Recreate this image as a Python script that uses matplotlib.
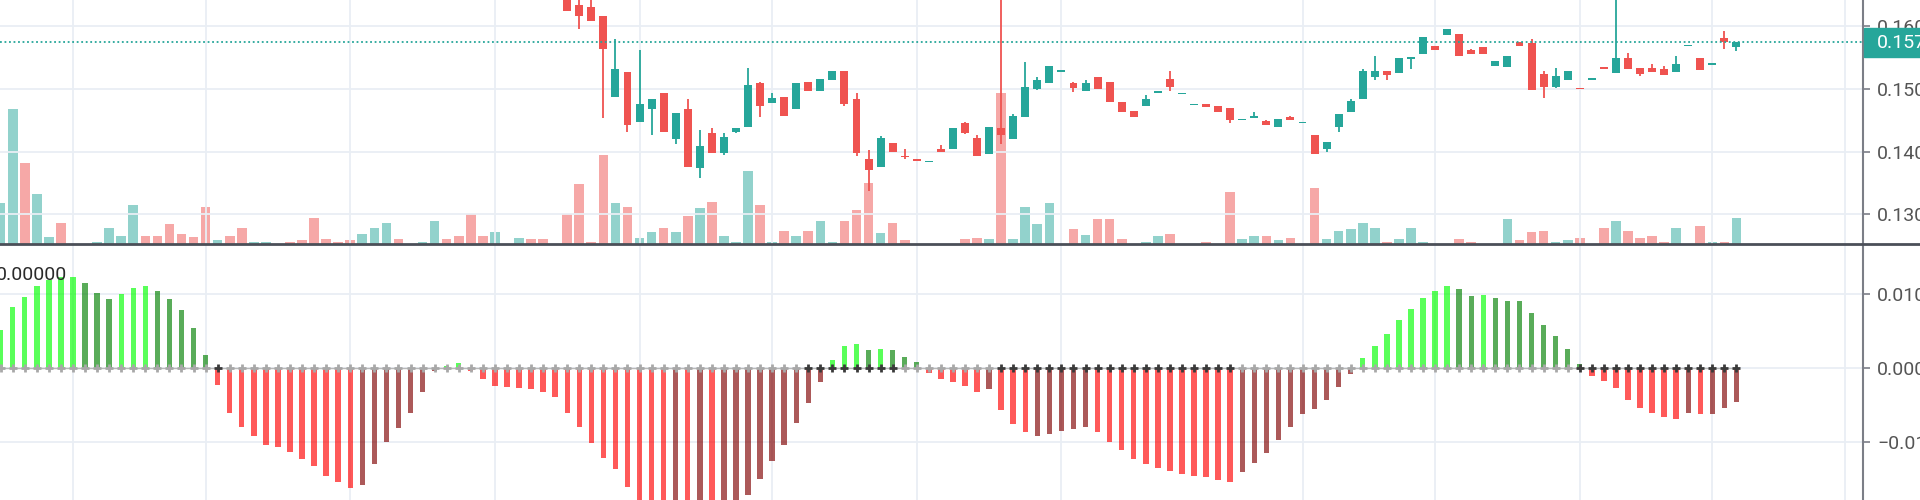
import numpy as np
import matplotlib
matplotlib.use("Agg")
import matplotlib.pyplot as plt
from matplotlib.patches import Rectangle
from matplotlib.lines import Line2D

plt.rcParams['font.family'] = ['Roboto', 'DejaVu Sans']

UP = '#26a69a'
DOWN = '#ef5350'
GRID = '#e9eef4'
AXIS = '#7b7e87'
LABEL = '#555555'

# bars 0..46 sit above the visible price range, only their volume shows
first_candle = 47
opens = [0.16500, 0.16335, 0.16307, 0.16159, 0.14874, 0.15262, 0.14475, 0.14678, 0.14928, 0.14195,
         0.14673, 0.13733, 0.14290, 0.13972, 0.14316, 0.14396, 0.15087, 0.14778, 0.14874, 0.14678,
         0.15103, 0.14964, 0.15140, 0.15283, 0.14832, 0.13881, 0.13759, 0.14131, 0.13934, 0.13876,
         0.13833, 0.14036, 0.14036, 0.14450, 0.14221, 0.13961, 0.14370, 0.14195, 0.14555, 0.14996,
         0.15097, 0.15272, 0.15087, 0.14964, 0.15183, 0.15103, 0.14794, 0.14646, 0.14725, 0.14938,
         0.15156, 0.14912, 0.14737, 0.14753, 0.14725, 0.14698, 0.14502, 0.14530, 0.14491, 0.14396,
         0.14545, 0.14450, 0.14264, 0.14036, 0.14396, 0.14625, 0.14832, 0.15192, 0.15283, 0.15246,
         0.15469, 0.15554, 0.15686, 0.15857, 0.15873, 0.15618, 0.15670, 0.15368, 0.15342, 0.15740,
         0.15734, 0.15235, 0.15033, 0.15140, 0.15007, 0.15145, 0.15342, 0.15251, 0.15485, 0.15336,
         0.15336, 0.15310, 0.15262, 0.15677, 0.15495, 0.15379, 0.15804, 0.15660]
highs = [0.16600, 0.16520, 0.16500, 0.16159, 0.15793, 0.15262, 0.15618, 0.14832, 0.14928, 0.14619,
         0.14832, 0.14343, 0.14370, 0.14290, 0.14370, 0.15336, 0.15110, 0.14928, 0.14874, 0.15087,
         0.15103, 0.15156, 0.15283, 0.15283, 0.14928, 0.14025, 0.14248, 0.14131, 0.14036, 0.13876,
         0.13849, 0.14104, 0.14370, 0.14466, 0.14264, 0.14396, 0.16650, 0.14600, 0.15422, 0.15192,
         0.15363, 0.15288, 0.15113, 0.15140, 0.15183, 0.15103, 0.14794, 0.14646, 0.14901, 0.14953,
         0.15283, 0.14928, 0.14753, 0.14753, 0.14725, 0.14698, 0.14518, 0.14625, 0.14510, 0.14518,
         0.14571, 0.14466, 0.14264, 0.14157, 0.14598, 0.14832, 0.15315, 0.15522, 0.15283, 0.15485,
         0.15511, 0.15820, 0.15686, 0.15947, 0.15873, 0.15640, 0.15670, 0.15442, 0.15522, 0.15740,
         0.15793, 0.15283, 0.15336, 0.15283, 0.15007, 0.15156, 0.15342, 0.16650, 0.15565, 0.15336,
         0.15390, 0.15363, 0.15522, 0.15697, 0.15495, 0.15415, 0.15925, 0.15740]
lows = [0.16244, 0.15952, 0.16084, 0.14529, 0.14864, 0.14316, 0.14475, 0.14263, 0.14316, 0.14115,
        0.13759, 0.13574, 0.13982, 0.13950, 0.14290, 0.14396, 0.14555, 0.14778, 0.14571, 0.14678,
        0.14964, 0.14964, 0.15140, 0.14725, 0.13934, 0.13376, 0.13759, 0.13988, 0.13881, 0.13854,
        0.13833, 0.13988, 0.14036, 0.14280, 0.13934, 0.13961, 0.14115, 0.14195, 0.14555, 0.14980,
        0.15097, 0.15272, 0.14953, 0.14964, 0.14991, 0.14784, 0.14635, 0.14555, 0.14725, 0.14938,
        0.14964, 0.14912, 0.14737, 0.14714, 0.14635, 0.14450, 0.14502, 0.14530, 0.14423, 0.14396,
        0.14502, 0.14450, 0.13961, 0.13988, 0.14316, 0.14625, 0.14832, 0.15140, 0.15140, 0.15246,
        0.15315, 0.15554, 0.15618, 0.15857, 0.15527, 0.15554, 0.15554, 0.15368, 0.15342, 0.15681,
        0.14980, 0.14858, 0.15007, 0.15140, 0.14991, 0.15145, 0.15320, 0.15251, 0.15315, 0.15208,
        0.15262, 0.15219, 0.15262, 0.15677, 0.15299, 0.15379, 0.15629, 0.15606]
closes = [0.16244, 0.16164, 0.16084, 0.15629, 0.15310, 0.14423, 0.14753, 0.14832, 0.14316, 0.14619,
          0.13759, 0.14088, 0.13982, 0.14237, 0.14370, 0.15060, 0.14725, 0.14848, 0.14571, 0.15087,
          0.14964, 0.15156, 0.15283, 0.14753, 0.13982, 0.13706, 0.14221, 0.13988, 0.13908, 0.13854,
          0.13849, 0.13988, 0.14370, 0.14290, 0.13934, 0.14396, 0.14264, 0.14571, 0.15033, 0.15140,
          0.15363, 0.15288, 0.15007, 0.15087, 0.14991, 0.14784, 0.14635, 0.14555, 0.14832, 0.14953,
          0.15033, 0.14928, 0.14753, 0.14714, 0.14635, 0.14502, 0.14518, 0.14571, 0.14423, 0.14518,
          0.14502, 0.14466, 0.13961, 0.14157, 0.14598, 0.14805, 0.15288, 0.15283, 0.15219, 0.15485,
          0.15511, 0.15820, 0.15618, 0.15947, 0.15527, 0.15554, 0.15554, 0.15442, 0.15522, 0.15681,
          0.14980, 0.15033, 0.15208, 0.15283, 0.14991, 0.15156, 0.15320, 0.15495, 0.15315, 0.15235,
          0.15262, 0.15219, 0.15390, 0.15697, 0.15299, 0.15415, 0.15740, 0.15740]
last_price = 0.1574

# volume, thousands
volume = [40.7, 135.3, 80.7, 50.3, 7, 21.3, 0, 0, 2, 16.3,
          8, 39, 8, 8, 19.7, 9.7, 7, 37, 3.7, 8,
          16.3, 2, 2, 0, 2, 3.7, 26.3, 5.3, 2, 3.7,
          10.3, 16.3, 21.3, 5.3, 0, 2, 23, 5.3, 8.3, 29.7,
          8, 12, 0, 6.3, 4.7, 4.7, 0, 29.7, 59.7, 2,
          88.7, 40.7, 37.3, 6.3, 12, 16.3, 12, 28, 35.7, 42,
          8, 2, 73, 39, 2, 13, 8, 13, 23, 2,
          23, 34, 61.3, 11.3, 21.3, 3.7, 0, 0, 0, 0,
          5.3, 6.3, 5.3, 151.3, 5.3, 37, 19.7, 40.7, 0, 14.7,
          8.7, 24.7, 24.7, 5.3, 0, 2, 8, 9.7, 0, 0,
          2, 0, 52, 5.3, 8, 8, 3.7, 6.3, 0, 56.3,
          5.3, 13, 14.7, 21.3, 16.3, 2, 5.3, 16.3, 2, 0,
          0, 5.3, 2, 0, 0, 24.7, 3.7, 12, 13, 2,
          3.7, 6.3, 0, 16.3, 23, 13, 6.3, 8, 2, 16.3,
          0, 18, 2, 2, 26.3]
# up/down for the bars whose candles are off screen
early_dir = "uuduudduuu" "uuddddddud" "duuudddddd" "uuuduuuddd" "duuuddd"

# squeeze momentum histogram
momentum = [0.00519, 0.00834, 0.00960, 0.01114, 0.01195, 0.01231, 0.01240, 0.01159, 0.01023, 0.00942,
            0.01005, 0.01091, 0.01114, 0.01050, 0.00942, 0.00789, 0.00550, 0.00181, -0.00224, -0.00598,
            -0.00796, -0.00909, -0.01035, -0.01058, -0.01125, -0.01229, -0.01315, -0.01450, -0.01531, -0.01620,
            -0.01576, -0.01296, -0.00990, -0.00810, -0.00598, -0.00315, -0.00035, 0.00030, 0.00069, -0.00035,
            -0.00143, -0.00234, -0.00256, -0.00260, -0.00278, -0.00323, -0.00382, -0.00607, -0.00796, -0.01012,
            -0.01207, -0.01364, -0.01599, -0.01800, -0.01900, -0.01960, -0.01920, -0.01990, -0.01950, -0.02000,
            -0.01930, -0.01840, -0.01711, -0.01495, -0.01251, -0.01035, -0.00734, -0.00472, -0.00188, 0.00114,
            0.00307, 0.00330, 0.00249, 0.00262, 0.00249, 0.00154, 0.00091, -0.00058, -0.00143, -0.00188,
            -0.00234, -0.00323, -0.00278, -0.00562, -0.00751, -0.00864, -0.00909, -0.00882, -0.00842, -0.00819,
            -0.00796, -0.00864, -0.00999, -0.01103, -0.01229, -0.01296, -0.01341, -0.01382, -0.01431, -0.01450,
            -0.01472, -0.01508, -0.01539, -0.01404, -0.01274, -0.01139, -0.00968, -0.00796, -0.00620, -0.00553,
            -0.00427, -0.00256, -0.00076, 0.00136, 0.00307, 0.00460, 0.00654, 0.00803, 0.00955, 0.01046,
            0.01114, 0.01069, 0.00982, 0.00990, 0.00955, 0.00915, 0.00910, 0.00745, 0.00586, 0.00438,
            0.00262, 0.00055, -0.00099, -0.00166, -0.00269, -0.00427, -0.00531, -0.00598, -0.00661, -0.00684,
            -0.00598, -0.00620, -0.00619, -0.00531, -0.00450]
mom_colors = ("LLLLLLL" "GGG" "LLL" "GGGGG" "RRRRRRRRRRRR" "MMMMMMM" "LL" "RRRRRRRRRRRRRRRRR"
              "MRMRMM" "MMMMMMM" "LLL" "GLGGG" "RRRRR" "M" "RRR" "MMMMM" "RRRRRRRRRRRR"
              "MMMMMMMMMM" "LLLLLLLL" "GGLGGGGGGGG" "RRRRRRRR" "MRMMM")
squeeze_on = [(18, 18), (67, 74), (83, 102), (131, 144)]

time_grid = [6, 17, 29, 41, 53, 64, 76, 88, 108, 119, 131, 142, 153]
price_ticks = [0.130, 0.140, 0.150, 0.160]
mom_ticks = [-0.010, 0.000, 0.010]

W, H = 1920, 500
SPINE = 1863          # x of the price scale border, pixels
BAR_PX = 12.054       # bar spacing, pixels
n = len(volume)
x_all = np.arange(n)
xlim = (-0.056, -0.056 + SPINE / BAR_PX)

fig = plt.figure(figsize=(W / 100, H / 100), dpi=100)
ax_vol = fig.add_axes([0, 1 - 244 / H, SPINE / W, 244 / H])
ax = ax_vol.twinx()
ax_m = fig.add_axes([0, 0, SPINE / W, 255 / H])

# volume
cdir = ['u' if c >= o else 'd' for o, c in zip(opens, closes)]
vdir = list(early_dir) + cdir
vcols = [UP if d == 'u' else DOWN for d in vdir]
ax_vol.bar(x_all, volume, width=0.8, color=vcols, alpha=0.5, linewidth=0)
ax_vol.set_ylim(0, 244)
ax_vol.set_xlim(*xlim)
ax_vol.set_yticks([])
ax_vol.set_xticks(time_grid)
ax_vol.grid(axis='x', color=GRID, lw=1.3)
ax_vol.tick_params(axis='x', length=0, labelbottom=False)
for s in ax_vol.spines.values():
    s.set_visible(False)

# candles
xc = np.arange(first_candle, first_candle + len(opens))
o = np.array(opens)
c = np.array(closes)
ccols = [UP if d == 'u' else DOWN for d in cdir]
ax.vlines(xc, lows, highs, colors=ccols, lw=1.3, zorder=3)
ax.bar(xc, np.maximum(np.abs(c - o), 0.0002), bottom=np.minimum(o, c), width=0.66,
       color=ccols, linewidth=0, zorder=4)
ax.axhline(last_price, color=UP, lw=1.3, ls=(0, (1, 1.5)), zorder=5)
ax.set_ylim(0.12527, 0.164142)
ax.set_xlim(*xlim)
ax.set_yticks(price_ticks, labels=[f"{t:.3f}" for t in price_ticks])
ax.grid(axis='y', color=GRID, lw=1.3, zorder=0)

# momentum histogram
mmap = {'L': (0, 1, 0, 0.65), 'G': (0, 0.5, 0, 0.65), 'R': (1, 0, 0, 0.65), 'M': (0.5, 0, 0, 0.65)}
ax_m.bar(x_all, momentum, width=0.45, color=[mmap[k] for k in mom_colors], linewidth=0, zorder=3)
on = np.zeros(n, bool)
for a, b in squeeze_on:
    on[a:b + 1] = True
ax_m.plot(x_all, np.zeros(n), color='#b8b8b8', lw=1, zorder=3.5)
ax_m.scatter(x_all[~on], np.zeros((~on).sum()), marker='+', s=30, lw=2, color='#a8a8a8', zorder=4)
ax_m.scatter(x_all[on], np.zeros(on.sum()), marker='+', s=30, lw=2, color='#3a3a3a', zorder=4)
ax_m.set_ylim(-0.017784, 0.016676)
ax_m.set_xlim(*xlim)
ax_m.yaxis.tick_right()
ax_m.set_yticks(mom_ticks, labels=['\u22120.010', '0.000', '0.010'])
ax_m.set_xticks(time_grid)
ax_m.grid(color=GRID, lw=1.3, zorder=0)
ax_m.set_axisbelow(True)
ax_m.tick_params(axis='x', length=0, labelbottom=False)

for a in (ax, ax_m):
    for name, s in a.spines.items():
        s.set_visible(name == 'right')
    a.spines['right'].set_color(AXIS)
    a.spines['right'].set_linewidth(1.5)
    a.tick_params(axis='y', direction='out', length=5, width=1.2, color=AXIS,
                  pad=5, labelsize=14, labelcolor=LABEL)
ax.tick_params(axis='x', length=0, labelbottom=False)

# pane separator
fig.add_artist(Line2D([0, 1], [1 - 244 / H] * 2, color='#4b4f58', lw=2))

# last price tag
fig.patches.append(Rectangle(((SPINE + 1) / W, 1 - 57.3 / H), (W - SPINE - 1) / W, 29.6 / H,
                             transform=fig.transFigure, color=UP, zorder=5))
fig.text((SPINE + 14) / W, 1 - 42.5 / H, f"{last_price:.3f}", color='white', fontsize=14,
         va='center', zorder=6)

# indicator value
fig.text(67 / W, 1 - 275 / H, "0.00000", ha='right', va='center', fontsize=14, color='#2a2a2a')

fig.savefig("out.png", dpi=100, facecolor='white')
